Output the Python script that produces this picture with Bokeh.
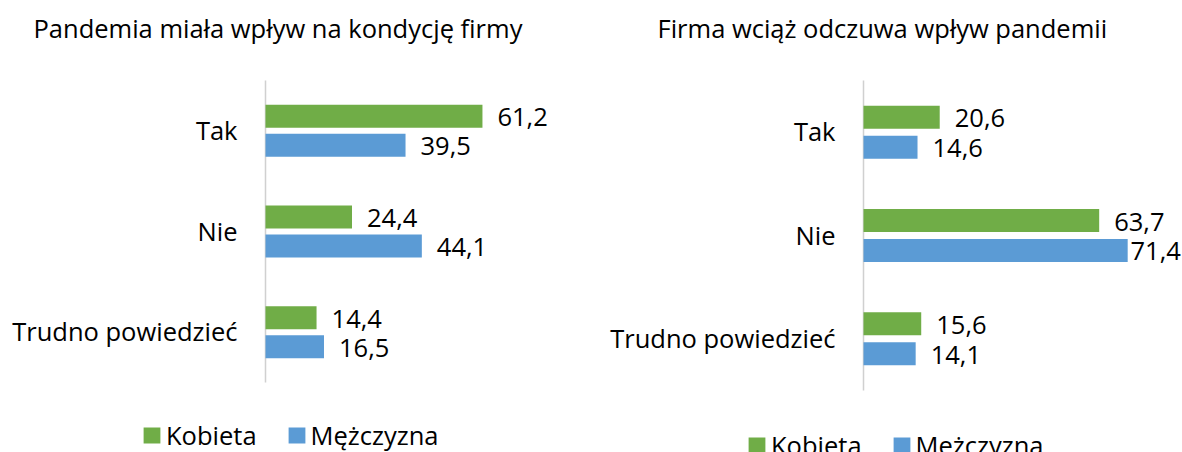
from bokeh.plotting import figure
from bokeh.models import ColumnDataSource, Range1d, Legend, LegendItem, Label
from bokeh.layouts import row
from bokeh.core.properties import value
from bokeh.embed import file_html
from bokeh.resources import INLINE

# ---------------- data ----------------
categories = ["Tak", "Nie", "Trudno powiedzieć"]
series_names = ["Kobieta", "Mężczyzna"]

left_title = "Pandemia miała wpływ na kondycję firmy"
left_kobieta = [61.2, 24.4, 14.4]
left_mezczyzna = [39.5, 44.1, 16.5]

right_title = "Firma wciąż odczuwa wpływ pandemii"
right_kobieta = [20.6, 63.7, 15.6]
right_mezczyzna = [14.6, 71.4, 14.1]

# ---------------- style ----------------
GREEN = "#70AD47"
BLUE = "#5B9BD5"
AXIS = "#D0D0D0"
FONT = "Open Sans"
FS = "25.5px"
TXT = "#000000"
LABEL_W = 52  # estimated width of a data label in px


def fmt(v):
    return f"{v:.1f}".replace(".", ",")


def make_chart(title, kob, mez, W, H, axis_x, cat_top, cat_bottom, ppu,
               dodge_off, bar_h, title_x, title_base, legend_xy):
    n = len(categories)
    unit_px = (cat_bottom - cat_top) / n          # px per category band
    y_end = n + cat_top / unit_px
    y_start = -(H - cat_bottom) / unit_px
    x_start = -axis_x / ppu
    x_end = (W - axis_x) / ppu

    ys = [n - i - 0.5 for i in range(n)]          # Tak at the top

    def offs(vals):
        return [max(0, min(15, (x_end - v) * ppu - LABEL_W)) for v in vals]

    src = ColumnDataSource(dict(
        cat=categories,
        yk=[y + dodge_off for y in ys], ym=[y - dodge_off for y in ys], yc=ys,
        kob=kob, mez=mez,
        kob_lab=[fmt(v) for v in kob], mez_lab=[fmt(v) for v in mez],
        kob_off=offs(kob), mez_off=offs(mez),
    ))

    p = figure(width=W, height=H,
               x_range=Range1d(x_start, x_end), y_range=Range1d(y_start, y_end),
               x_axis_location=None, y_axis_location=None,
               toolbar_location=None, output_backend="svg",
               min_border=0)
    p.outline_line_color = None
    p.xgrid.visible = False
    p.ygrid.visible = False

    # value axis line (at 0) spanning the category bands
    p.segment(x0=0, y0=0, x1=0, y1=n, line_color=AXIS, line_width=1.5)

    r1 = p.hbar(y="yk", right="kob", left=0, height=bar_h,
                fill_color=GREEN, line_color=None, source=src)
    r2 = p.hbar(y="ym", right="mez", left=0, height=bar_h,
                fill_color=BLUE, line_color=None, source=src)

    # data labels
    p.text(x="kob", y="yk", text="kob_lab", x_offset="kob_off", y_offset=1,
           text_baseline="middle", text_align="left",
           text_font=value(FONT), text_font_size=FS, text_color=TXT, source=src)
    p.text(x="mez", y="ym", text="mez_lab", x_offset="mez_off", y_offset=1,
           text_baseline="middle", text_align="left",
           text_font=value(FONT), text_font_size=FS, text_color=TXT, source=src)

    # category labels
    p.text(x=0, y="yc", text="cat", x_offset=-28, y_offset=-1,
           text_baseline="middle", text_align="right",
           text_font=value(FONT), text_font_size=FS, text_color=TXT, source=src)

    # title
    p.add_layout(Label(x=title_x, y=H - title_base, x_units="screen", y_units="screen",
                       text=title, text_align="left", text_baseline="alphabetic",
                       text_font=FONT, text_font_size=FS, text_color=TXT))

    legend = Legend(items=[LegendItem(label=series_names[0], renderers=[r1]),
                           LegendItem(label=series_names[1], renderers=[r2])],
                    orientation="horizontal", location=legend_xy,
                    label_text_font=FONT, label_text_font_size=FS,
                    label_text_color=TXT,
                    glyph_width=21, glyph_height=20, label_standoff=4,
                    spacing=29, padding=0, margin=0,
                    border_line_color=None, background_fill_alpha=0)
    p.add_layout(legend)
    return p


p1 = make_chart(left_title, left_kobieta, left_mezczyzna,
                W=591, H=452, axis_x=265, cat_top=80, cat_bottom=382, ppu=3.545,
                dodge_off=0.144, bar_h=0.228,
                title_x=33, title_base=27, legend_xy=(141, 0))
p2 = make_chart(right_title, right_kobieta, right_mezczyzna,
                W=591, H=452, axis_x=272, cat_top=80, cat_bottom=390, ppu=3.70,
                dodge_off=0.145, bar_h=0.223,
                title_x=66, title_base=27, legend_xy=(155, -10))

layout = row(p1, p2)
open("out.html", "w").write(file_html(layout, INLINE))
